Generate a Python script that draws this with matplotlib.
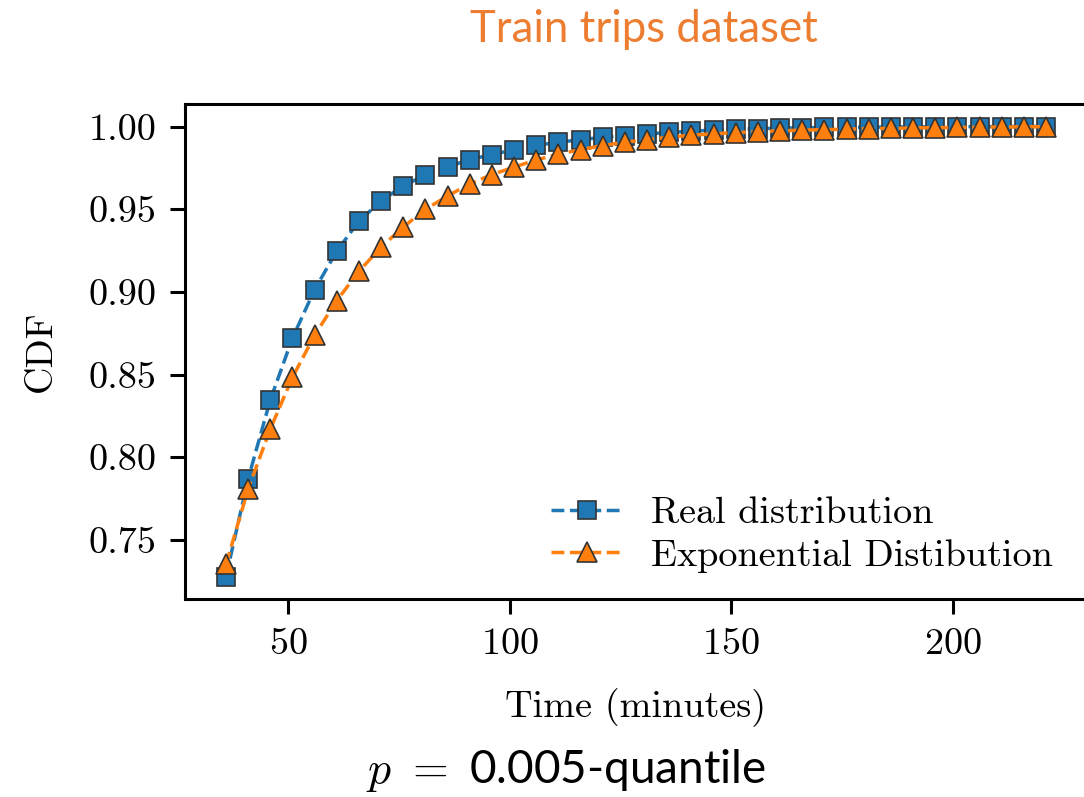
import matplotlib
matplotlib.use("Agg")
import matplotlib.pyplot as plt

# time points (minutes) of the CDF samples
times = [36, 41, 46, 51, 56, 61, 66, 71, 76, 81, 86, 91, 96, 101, 106, 111,
         116, 121, 126, 131, 136, 141, 146, 151, 156, 161, 166, 171, 176, 181,
         186, 191, 196, 201, 206, 211, 216, 221]

real_cdf = [0.7279, 0.7870, 0.8347, 0.8721, 0.9014, 0.9247, 0.9428, 0.9550,
            0.9641, 0.9707, 0.9756, 0.9800, 0.9830, 0.9860, 0.9886, 0.9905,
            0.9920, 0.9935, 0.9945, 0.9955, 0.9964, 0.9972, 0.9978, 0.9983,
            0.9987, 0.9990, 0.9992, 0.9994, 0.9995, 0.9996, 0.9997, 0.9998,
            0.9998, 0.9999, 0.9999, 1.0000, 1.0000, 1.0000]

expo_cdf = [0.7352, 0.7808, 0.8171, 0.8483, 0.8738, 0.8947, 0.9125, 0.9271,
            0.9392, 0.9499, 0.9580, 0.9653, 0.9709, 0.9755, 0.9798, 0.9832,
            0.9860, 0.9885, 0.9905, 0.9921, 0.9935, 0.9947, 0.9956, 0.9963,
            0.9969, 0.9974, 0.9978, 0.9981, 0.9984, 0.9987, 0.9989, 0.9991,
            0.9993, 0.9994, 0.9996, 0.9997, 0.9998, 0.9999]

plt.rcParams["font.family"] = "cmr10"
plt.rcParams["mathtext.fontset"] = "cm"
plt.rcParams["axes.formatter.use_mathtext"] = True

fig = plt.figure(figsize=(10.84, 7.97), dpi=100)
ax = fig.add_axes([185 / 1084, 1 - 599 / 797, 902 / 1084, 495 / 797])

ax.plot(times, real_cdf, linestyle="--", color="#1f77b4", lw=2.5,
        marker="s", markersize=13.5, markerfacecolor="#1f77b4",
        markeredgecolor="#333333", markeredgewidth=1.2, label="Real distribution")
ax.plot(times, expo_cdf, linestyle="--", color="#ff7f0e", lw=2.5,
        marker="^", markersize=14, markerfacecolor="#ff7f0e",
        markeredgecolor="#333333", markeredgewidth=1.2,
        label="Exponential Distibution")

ax.set_yticks([0.75, 0.80, 0.85, 0.90, 0.95, 1.00])
ax.set_yticklabels(["0.75", "0.80", "0.85", "0.90", "0.95", "1.00"])
ax.set_xticks([50, 100, 150, 200])
ax.tick_params(labelsize=27.5, length=10.5, width=2.2, pad=10)
for s in ax.spines.values():
    s.set_linewidth(2.2)

ax.set_xlabel("Time (minutes)", fontsize=27.5, labelpad=20)
ax.set_ylabel("CDF", fontsize=27.5, labelpad=22)

ax.legend(loc="lower right", frameon=False, fontsize=27.5, handlelength=1.85,
          handletextpad=0.75, labelspacing=0.22,
          bbox_to_anchor=(1.0, -0.016))

fig.text(644 / 1084, 1 - 30 / 797, "Train trips dataset", family="Lato",
         fontsize=31.5, color="#ED7D31", ha="center", va="center")
fig.text(566 / 1084, 1 - 770 / 797, r"$p\ =\ $0.005-quantile", family="Lato",
         fontsize=33, color="black", ha="center", va="center")

fig.savefig("out.png", dpi=100)
